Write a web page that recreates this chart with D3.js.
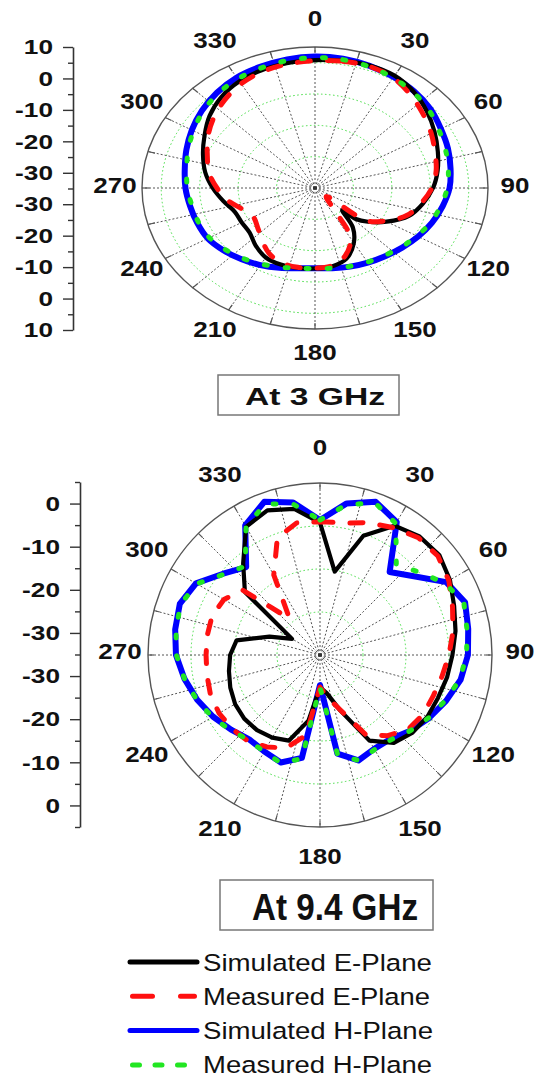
<!DOCTYPE html>
<html>
<head>
<meta charset="utf-8">
<script src="https://cdn.jsdelivr.net/npm/d3@7"></script>
<style>
  body { margin: 0; background: #fff; }
  svg { display: block; }
</style>
</head>
<body>
<svg id="chart" width="538" height="1078"></svg>
<script>
// angle labels, grid spokes and sample angles (degrees, clockwise from top)
const angleTicks = [0, 30, 60, 90, 120, 150, 180, 210, 240, 270, 300, 330];
const spokeAngles = [0, 15, 30, 45, 60, 75, 90, 105, 120, 135, 150, 165, 180, 195, 210, 225, 240, 255, 270, 285, 300, 315, 330, 345];
const angles10 = [0, 10, 20, 30, 40, 50, 60, 70, 80, 90, 100, 110, 120, 130, 140, 150, 160, 170,
                  180, 190, 200, 210, 220, 230, 240, 250, 260, 270, 280, 290, 300, 310, 320, 330, 340, 350];

// radial axis tick labels (left of each pattern)
const axisLabels3 = ["10", "0", "-10", "-20", "-30", "-30", "-20", "-10", "0", "10"];
const axisLabels94 = ["0", "-10", "-20", "-30", "-30", "-20", "-10", "0"];

// ---- At 3 GHz (dB) ----
// E-plane series as [angle, dB] (extra points around the null near 135 deg)
const simE3 = [[0, 5.8], [10, 6.3], [20, 6.6], [30, 6.4], [40, 5.0], [50, 3.0], [60, 0.9], [70, -1.0],
  [80, -2.6], [90, -4.3], [100, -6.5], [110, -9.0], [120, -13.5], [128, -17.5], [133, -20.5], [135, -25.0],
  [142, -19.0], [150, -14.8], [160, -11.0], [170, -9.6], [180, -9.3], [190, -9.1], [200, -9.0], [210, -9.4],
  [220, -11.0], [230, -12.8], [240, -13.0], [250, -12.8], [260, -10.8], [270, -8.4], [280, -6.0], [290, -4.0],
  [300, -1.8], [310, 0.8], [320, 2.9], [330, 4.3], [340, 5.1], [350, 5.5]];
const measE3 = [[0, 5.6], [10, 6.1], [20, 6.3], [30, 5.6], [40, 3.7], [50, 1.7], [60, -0.1], [70, -1.8],
  [80, -3.0], [90, -4.6], [100, -7.0], [110, -9.5], [120, -14.0], [128, -18.0], [133, -31.0], [145, -25.0],
  [150, -16.5], [160, -12.0], [170, -9.8], [180, -9.4], [190, -9.3], [200, -9.6], [210, -11.0], [220, -13.5],
  [230, -15.5], [240, -16.5], [250, -15.0], [260, -12.0], [270, -9.5], [280, -7.0], [290, -5.2], [300, -2.8],
  [310, -0.5], [320, 1.6], [330, 3.4], [340, 4.6], [350, 5.2]];
// H-plane series at angles10
const simH3 = [7.0, 6.9, 6.5, 5.9, 5.2, 4.2, 2.8, 1.8, 0.8, 0.0, -1.3, -2.6, -4.0, -5.4, -6.6, -7.5, -8.3, -9.0,
  -9.4, -9.0, -7.9, -6.6, -5.3, -4.0, -2.8, -2.4, -2.0, -1.3, -0.6, 0.6, 2.0, 3.4, 4.7, 5.7, 6.2, 6.7];
const measH3 = [6.6, 6.6, 6.2, 5.6, 4.8, 3.7, 2.2, 1.1, 0.2, -0.6, -1.8, -3.0, -4.4, -5.7, -6.9, -7.7, -8.4, -9.0,
  -9.3, -9.0, -8.1, -7.0, -5.7, -4.5, -3.3, -2.8, -2.5, -1.8, -1.1, 0.1, 1.5, 3.0, 4.3, 5.2, 5.8, 6.3];

// ---- At 9.4 GHz (dB, at angles10) ----
const simE94 = [-4.2, -15.3, -5.5, -0.3, 1.0, 1.2, -0.1, -1.8, -3.0, -4.2, -5.0, -5.8, -6.2, -6.9, -8.3, -12.0,
  -21.3, -26.0, -27.5, -19.5, -13.8, -12.8, -12.2, -12.0, -12.2, -12.8, -13.5, -14.1, -15.3, -22.5, -27.5,
  -12.2, -7.2, -0.6, 0.8, -0.5];
const measE94 = [-4.0, -3.8, -2.3, -0.8, 0.6, 0.8, -0.4, -2.2, -3.6, -5.0, -6.2, -7.0, -7.3, -8.2, -10.5, -13.5,
  -21.5, -25.0, -27.5, -16.0, -12.0, -10.3, -8.9, -8.3, -7.9, -7.9, -8.3, -8.5, -8.4, -8.3, -9.2, -11.5,
  -24.0, -13.5, -6.0, -3.8];
const simH94 = [-3.6, 0.8, 2.9, 0.7, -9.8, -6.5, -1.1, 0.9, 0.0, -0.6, -1.8, -3.8, -5.7, -7.6, -9.5, -9.8,
  -8.9, -11.7, -28.0, -10.7, -8.4, -9.1, -9.4, -8.0, -6.3, -4.6, -3.0, -1.5, -0.8, -0.3, -1.7, -5.6, -8.3,
  -0.2, 2.9, 1.0];
const measH94 = [-3.6, 0.5, 2.6, 0.3, -7.4, -5.0, -1.5, 0.6, -0.3, -0.9, -2.0, -4.0, -5.8, -7.6, -9.3, -9.6,
  -8.9, -11.5, -27.5, -10.5, -8.3, -9.0, -9.2, -7.8, -6.1, -4.5, -3.0, -1.6, -1.0, -0.5, -1.9, -5.8, -8.0,
  -0.6, 2.4, 0.6];

const legendLabels = ["Simulated E-Plane", "Measured E-Plane", "Simulated H-Plane", "Measured H-Plane"];

const svg = d3.select("#chart");
const font = "Arial, 'Liberation Sans', sans-serif";
const rad = (a) => (a * Math.PI) / 180;
const pairs = (vals) => angles10.map((a, i) => [a, vals[i]]);

const styles = {
  simE: { stroke: "#000", width: 4.2, dash: null },
  measE: { stroke: "#ff1010", width: 5, dash: "13,17" },
  simH: { stroke: "#0000ff", width: 6, dash: null },
  measH: { stroke: "#22e622", width: 5, dash: "3,18" },
};

function drawPolar(o) {
  const g = svg.append("g");
  const r = d3.scaleLinear().domain([-35, o.outer]).range([0, o.radius]);
  const px = (a, v) => o.cx + o.sx * r(v) * Math.sin(rad(a));
  const py = (a, v) => o.cy - r(v) * Math.cos(rad(a));

  // green dotted rings
  g.selectAll(".ring")
    .data(o.rings)
    .join("ellipse")
    .attr("cx", o.cx)
    .attr("cy", o.cy)
    .attr("rx", (d) => r(d) * o.sx)
    .attr("ry", (d) => r(d))
    .attr("fill", "none")
    .attr("stroke", "#44dd44")
    .attr("stroke-width", 1)
    .attr("stroke-dasharray", "1.5,2.5");

  // dotted spokes
  g.selectAll(".spoke")
    .data(spokeAngles)
    .join("line")
    .attr("x1", o.cx)
    .attr("y1", o.cy)
    .attr("x2", (d) => px(d, o.outer))
    .attr("y2", (d) => py(d, o.outer))
    .attr("stroke", "#555")
    .attr("stroke-width", 1)
    .attr("stroke-dasharray", "2,2");

  // outer ring and ticks
  g.append("ellipse")
    .attr("cx", o.cx)
    .attr("cy", o.cy)
    .attr("rx", o.radius * o.sx)
    .attr("ry", o.radius)
    .attr("fill", "none")
    .attr("stroke", "#555")
    .attr("stroke-width", 1.4);

  const tickIn = o.outer - 6 / (o.radius / (o.outer + 35));
  g.selectAll(".otick")
    .data(spokeAngles)
    .join("line")
    .attr("x1", (d) => px(d, o.outer))
    .attr("y1", (d) => py(d, o.outer))
    .attr("x2", (d) => px(d, tickIn))
    .attr("y2", (d) => py(d, tickIn))
    .attr("stroke", "#555")
    .attr("stroke-width", 1.2);

  g.append("rect")
    .attr("x", o.cx - 2)
    .attr("y", o.cy - 1.5)
    .attr("width", 4)
    .attr("height", 3)
    .attr("fill", "#333");

  const line = d3
    .line()
    .x((d) => px(d[0], d[1]))
    .y((d) => py(d[0], d[1]))
    .curve(o.curve);

  o.series.forEach((s) => {
    const st = styles[s.key];
    g.append("path")
      .datum(s.data)
      .attr("d", line)
      .attr("fill", "none")
      .attr("stroke", st.stroke)
      .attr("stroke-width", st.width)
      .attr("stroke-linejoin", "round")
      .attr("stroke-linecap", st.dash ? "round" : "butt")
      .attr("stroke-dasharray", st.dash);
  });

  // angle labels
  g.selectAll(".alabel")
    .data(angleTicks)
    .join("text")
    .attr("transform", (d) =>
      `translate(${o.cx + o.lrx * Math.sin(rad(d))},${o.lcy - o.lry * Math.cos(rad(d))}) scale(1.18,1)`)
    .attr("text-anchor", "middle")
    .attr("dominant-baseline", "central")
    .style("font-family", font)
    .style("font-weight", "bold")
    .style("font-size", "22px")
    .attr("fill", "#111")
    .text((d) => d);
}

function drawAxis(x, y0, y1, labels, dom) {
  const y = d3.scaleLinear().domain(dom).range([y0, y1]);
  const major = labels.map((l, i) => i);
  const minor = d3.range(dom[0], dom[1] + 0.01, 0.5).filter((v) => !Number.isInteger(v));

  const gMinor = svg.append("g").attr("transform", `translate(${x},0)`)
    .call(d3.axisLeft(y).tickValues(minor).tickSize(5).tickSizeOuter(0).tickFormat(""));
  gMinor.select(".domain").remove();

  const gMajor = svg.append("g").attr("transform", `translate(${x},0)`)
    .call(d3.axisLeft(y).tickValues(major).tickSize(10).tickSizeOuter(0).tickPadding(6)
      .tickFormat((i) => labels[i]));

  [gMinor, gMajor].forEach((g) => {
    g.selectAll("line").attr("stroke", "#333").attr("stroke-width", 1.4);
    g.selectAll(".domain").attr("stroke", "#333").attr("stroke-width", 1.6);
  });
  gMajor.selectAll("text")
    .attr("transform", "scale(1.25,1)")
    .attr("fill", "#111")
    .style("font-family", font)
    .style("font-weight", "bold")
    .style("font-size", "21px");
}

function drawTitleBox(x, y, w, h, label, tx, ty, size, len) {
  svg.append("rect")
    .attr("x", x).attr("y", y).attr("width", w).attr("height", h)
    .attr("fill", "#fff").attr("stroke", "#777").attr("stroke-width", 1.5);
  svg.append("text")
    .attr("x", tx).attr("y", ty)
    .attr("textLength", len).attr("lengthAdjust", "spacingAndGlyphs")
    .style("font-family", font).style("font-weight", "bold").style("font-size", size + "px")
    .attr("fill", "#111")
    .text(label);
}

// ---- top pattern: 3 GHz (stretched horizontally) ----
drawPolar({
  cx: 315, cy: 188, radius: 141, sx: 1.227, outer: 10,
  rings: [-25, -15, -5, 5],
  lrx: 200, lry: 167, lcy: 185,
  curve: d3.curveCatmullRomClosed.alpha(0.5),
  series: [
    { key: "simH", data: pairs(simH3) },
    { key: "simE", data: simE3 },
    { key: "measE", data: measE3 },
    { key: "measH", data: pairs(measH3) },
  ],
});
drawAxis(73, 47, 330, axisLabels3, [0, 9]);
drawTitleBox(218, 375, 181, 40, "At 3 GHz", 245, 405, 23.5, 140);

// ---- bottom pattern: 9.4 GHz ----
drawPolar({
  cx: 320, cy: 655, radius: 172, sx: 1, outer: 5,
  rings: [-25, -15, -5],
  lrx: 200, lry: 204.5, lcy: 651.5,
  curve: d3.curveLinearClosed,
  series: [
    { key: "simH", data: pairs(simH94) },
    { key: "simE", data: pairs(simE94) },
    { key: "measE", data: pairs(measE94) },
    { key: "measH", data: pairs(measH94) },
  ],
});
drawAxis(80, 482, 827, axisLabels94, [-0.5, 7.5]);
drawTitleBox(220, 880, 213, 50, "At 9.4 GHz", 252, 920, 36, 166);

// ---- legend ----
const legendKeys = ["simE", "measE", "simH", "measH"];
const legendWidths = [229, 227, 230, 229];
const legendDash = { measE: "20,28", measH: "7,15.5" };
legendLabels.forEach((label, i) => {
  const yy = 962 + i * 34.3;
  const st = styles[legendKeys[i]];
  const dash = legendDash[legendKeys[i]];
  svg.append("line")
    .attr("x1", dash ? 132.5 : 130).attr("x2", dash ? 194.5 : 197)
    .attr("y1", yy).attr("y2", yy)
    .attr("stroke", st.stroke).attr("stroke-width", 5)
    .attr("stroke-linecap", "round")
    .attr("stroke-dasharray", dash || null);
  svg.append("text")
    .attr("x", 203).attr("y", yy + 8.5)
    .attr("textLength", legendWidths[i]).attr("lengthAdjust", "spacingAndGlyphs")
    .style("font-family", font).style("font-size", "24.5px")
    .attr("fill", "#111")
    .text(label);
});
</script>
</body>
</html>
